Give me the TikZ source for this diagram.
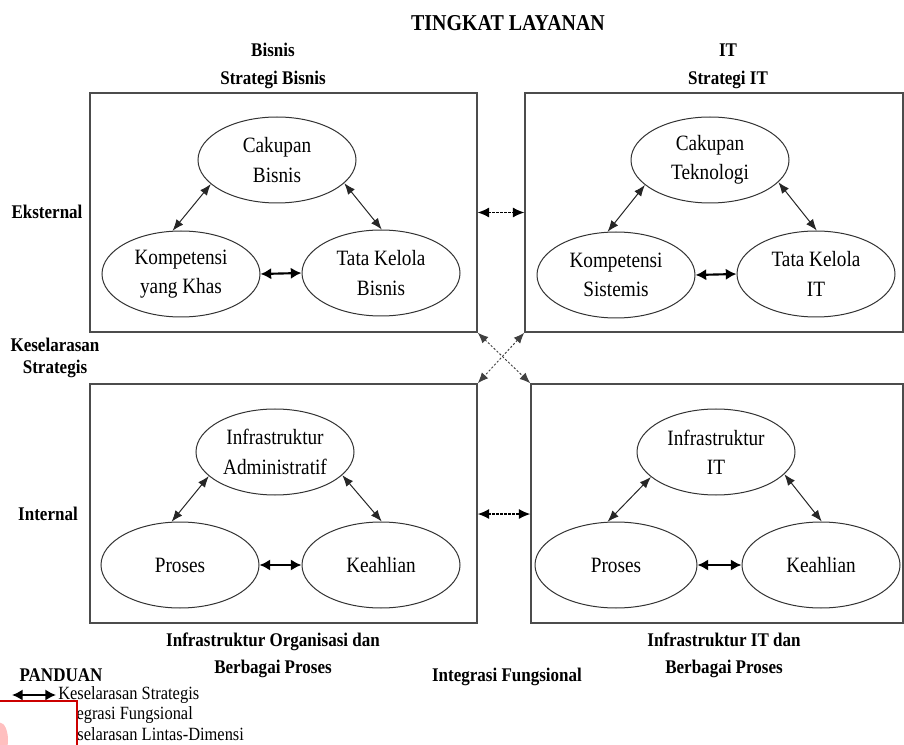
\documentclass[tikz,border=0pt]{standalone}
\usepackage{fontspec}
\setmainfont{Liberation Serif}[FakeStretch=0.88]
\usetikzlibrary{shapes.geometric,arrows.meta}
\begin{document}
\begin{tikzpicture}[x=0.75pt,y=-0.75pt,
  panel/.style={draw=black!70, line width=1.1pt, rectangle, inner sep=0pt},
  elp/.style={draw=black!80, line width=0.75pt, ellipse, inner sep=0pt,
    minimum width=118.5pt, minimum height=64.5pt, align=center,
    font=\fontsize{16.4}{22}\selectfont},
  lbl/.style={font=\bfseries\fontsize{14.5}{20}\selectfont, align=center, inner sep=0pt},
  note/.style={font=\fontsize{14}{16}\selectfont, anchor=west, inner sep=0pt},
  link/.style={{Latex[length=8.5pt,width=6.5pt]}-{Latex[length=8.5pt,width=6.5pt]},
    line width=0.75pt, black!85},
  tight/.style={{Latex[length=8pt,width=8.5pt]}-{Latex[length=8pt,width=8.5pt]},
    line width=1.6pt},
  bridge/.style={{Latex[length=8.5pt,width=7.5pt]}-{Latex[length=8.5pt,width=7.5pt]},
    line width=0.9pt, dash pattern=on 1.6pt off 1.4pt},
  cross/.style={{Latex[length=8pt,width=6.5pt]}-{Latex[length=8pt,width=6.5pt]},
    line width=0.7pt, dash pattern=on 1.6pt off 1.4pt, black!75},
]
\useasboundingbox (0,0) rectangle (904,745);

% four domain panels
\node[panel, minimum width=290.25pt, minimum height=179.25pt] (tl) at (283.5,212.5) {};
\node[panel, minimum width=283.5pt, minimum height=179.25pt] (tr) at (714,212.5) {};
\node[panel, minimum width=290.25pt, minimum height=179.25pt] (bl) at (283.5,503.5) {};
\node[panel, minimum width=279pt, minimum height=179.25pt] (br) at (717,503.5) {};

% business strategy
\node[elp] (cb) at (277,160) {Cakupan\\Bisnis};
\node[elp] (kk) at (181,274) {Kompetensi\\yang Khas};
\node[elp] (tb) at (381,273) {Tata Kelola\\Bisnis};
% IT strategy
\node[elp] (ct) at (710,160) {Cakupan\\Teknologi};
\node[elp] (ks) at (616,275) {Kompetensi\\Sistemis};
\node[elp] (ti) at (816,274) {Tata Kelola\\IT};
% organisational infrastructure
\node[elp] (ia) at (275,452) {Infrastruktur\\Administratif};
\node[elp] (pb) at (180,565) {Proses};
\node[elp] (kb) at (381,565) {Keahlian};
% IT infrastructure
\node[elp] (ii) at (716,452) {Infrastruktur\\IT};
\node[elp, minimum width=121.5pt] (pi) at (616,565) {Proses};
\node[elp] (ki) at (821,565) {Keahlian};

% links inside the panels
\draw[link] (kk.101) -- (cb.200);
\draw[link] (cb.341) -- (tb.89);
\draw[tight] (kk.east) -- (tb.west);
\draw[link] (ks.101) -- (ct.201);
\draw[link] (ct.342) -- (ti.89);
\draw[tight] (ks.east) -- (ti.west);
\draw[link] (pb.101) -- (ia.200);
\draw[link] (ia.341) -- (kb.89);
\draw[tight] (pb.east) -- (kb.west);
\draw[link] (pi.101) -- (ii.201);
\draw[link] (ii.342) -- (ki.89);
\draw[tight] (pi.east) -- (ki.west);

% links between the panels
\draw[bridge] (tl.east) -- (tr.west);
\draw[bridge] ([yshift=-7.9pt]bl.east) -- ([yshift=-7.9pt]br.west);
\draw[cross] (tl.south east) -- (br.north west);
\draw[cross] (tr.south west) -- (bl.north east);

% headings
\node[font=\bfseries\fontsize{17}{20}\selectfont, inner sep=0pt] (title) at (508,23) {TINGKAT LAYANAN};
\node[lbl] (bis) at (273,50) {Bisnis};
\node[lbl] (sbis) at (273,80) {Strategi Bisnis};
\node[lbl] (itc) at (728,50) {IT};
\node[lbl] (sit) at (728,80) {Strategi IT};
\node[lbl] (eks) at (47,212) {Eksternal};
\node[lbl, font=\bfseries\fontsize{14.5}{16.5}\selectfont] (ksl) at (55,358) {Keselarasan\\Strategis};
\node[lbl] (inl) at (48,514) {Internal};
\node[lbl] (iob) at (273,655) {Infrastruktur Organisasi dan\\Berbagai Proses};
\node[lbl] (iib) at (724,655) {Infrastruktur IT dan\\Berbagai Proses};
\node[lbl] (ifu) at (507,677) {Integrasi Fungsional};

% legend
\node[lbl] (pan) at (61,675) {PANDUAN};
\coordinate (la) at (12,695);
\coordinate (lb) at (56,695);
\draw[tight] (la) -- (lb);
\node[note] (n1) at (58,695) {Keselarasan Strategis};
\node[note] (n2) at (58,715) {Integrasi Fungsional};
\node[note] (n3) at (58,734) {Keselarasan Lintas-Dimensi};

% red frame lying over the legend corner
\draw[draw=red!80!black, line width=2.2pt, fill=white] (-6,701) rectangle (77,752);
\fill[red!25] (0,740) ellipse [x radius=6pt, y radius=13pt];
\end{tikzpicture}
\end{document}
